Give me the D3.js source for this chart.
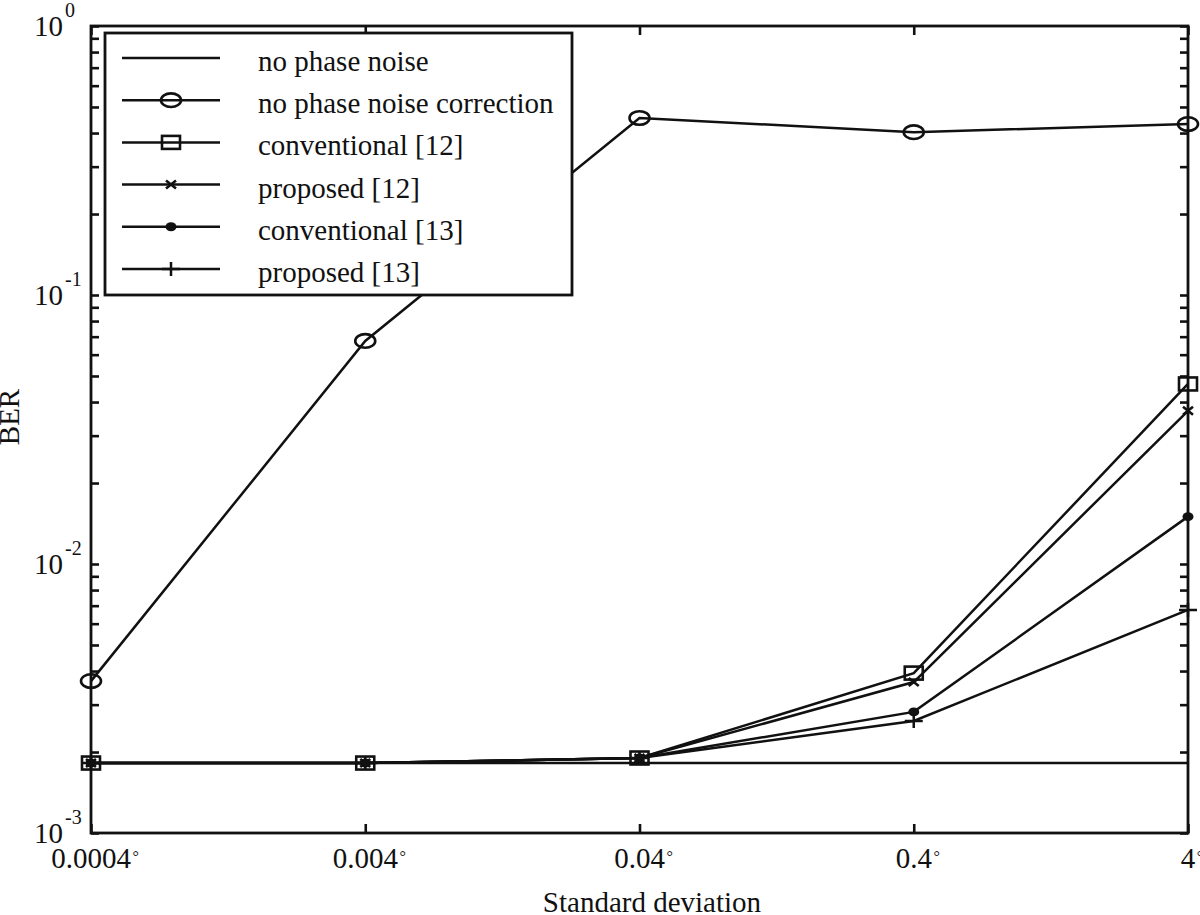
<!DOCTYPE html>
<html>
<head>
<meta charset="utf-8">
<script src="https://cdn.jsdelivr.net/npm/d3@7"></script>
<style>
  body { margin: 0; background: #fff; }
  svg { display: block; font-family: "Liberation Serif", "Times New Roman", serif; }
</style>
</head>
<body>
<svg id="chart"></svg>
<script>
// x values (standard deviation, degrees) and their tick labels
let stdDev = [0.0004, 0.004, 0.04, 0.4, 4];
let xTickLabels = ["0.0004", "0.004", "0.04", "0.4", "4"];
let yTickExps = ["-3", "-2", "-1", "0"];

// BER series
let noPhaseNoise = [1.82e-3, 1.82e-3, 1.82e-3, 1.82e-3, 1.82e-3];
let noCorrection = [3.67e-3, 0.0675, 0.455, 0.403, 0.432];
let conventional12 = [1.82e-3, 1.82e-3, 1.90e-3, 3.93e-3, 0.0467];
let proposed12 = [1.82e-3, 1.82e-3, 1.90e-3, 3.64e-3, 0.0371];
let conventional13 = [1.82e-3, 1.82e-3, 1.90e-3, 2.82e-3, 0.0150];
let proposed13 = [1.82e-3, 1.82e-3, 1.90e-3, 2.61e-3, 0.00675];

let seriesNames = ["no phase noise", "no phase noise correction", "conventional [12]",
  "proposed [12]", "conventional [13]", "proposed [13]"];
let seriesMarkers = ["none", "ellipse", "square", "cross", "dot", "plus"];
let seriesValues = [noPhaseNoise, noCorrection, conventional12, proposed12, conventional13, proposed13];

let width = 1200;
let height = 915;
let plotLeft = 91, plotRight = 1188, plotTop = 26, plotBottom = 833;
let ink = "#111";

let svg = d3.select("#chart").attr("width", width).attr("height", height);

let xScale = d3.scaleLog().domain([0.0004, 4]).range([plotLeft, plotRight]);
let yScale = d3.scaleLog().domain([1e-3, 1]).range([plotBottom, plotTop]);

// every minor and major tick on the y axis
let yTicks = [];
for (let e = -3; e <= 0; e++) {
  for (let m = 1; m <= 9; m++) {
    let v = m * Math.pow(10, e);
    if (v <= 1) yTicks.push(v);
  }
}

let drawAxes = () => {
  let yLeft = d3.axisRight(yScale).tickValues(yTicks).tickSize(8).tickFormat("").tickSizeOuter(0);
  let yRight = d3.axisLeft(yScale).tickValues(yTicks).tickSize(8).tickFormat("").tickSizeOuter(0);
  let xBottom = d3.axisTop(xScale).tickValues(stdDev).tickSize(9).tickFormat("").tickSizeOuter(0);
  let xTop = d3.axisBottom(xScale).tickValues(stdDev).tickSize(9).tickFormat("").tickSizeOuter(0);

  svg.append("g").attr("transform", "translate(" + plotLeft + ",0)").call(yLeft);
  svg.append("g").attr("transform", "translate(" + plotRight + ",0)").call(yRight);
  svg.append("g").attr("transform", "translate(0," + plotBottom + ")").call(xBottom);
  svg.append("g").attr("transform", "translate(0," + plotTop + ")").call(xTop);

  svg.selectAll(".tick line").attr("stroke", ink).attr("stroke-width", 2.6);
  svg.selectAll(".domain").remove();

  // frame
  svg.append("rect")
    .attr("x", plotLeft).attr("y", plotTop)
    .attr("width", plotRight - plotLeft).attr("height", plotBottom - plotTop)
    .attr("fill", "none").attr("stroke", ink).attr("stroke-width", 2.8);

  // y labels: 10 with exponent
  let yLab = svg.append("g").attr("fill", ink);
  yTickExps.forEach((ex) => {
    let y = yScale(Math.pow(10, +ex));
    yLab.append("text").attr("x", 63).attr("y", y + 10)
      .attr("text-anchor", "end").attr("font-size", 29).text("10");
    yLab.append("text").attr("x", 65).attr("y", y - 9)
      .attr("font-size", 20).text(ex);
  });

  // x labels with a degree sign after the number
  let xLab = svg.append("g").attr("fill", ink);
  stdDev.forEach((v, i) => {
    let t = xLab.append("text").attr("x", xScale(v)).attr("y", 868)
      .attr("text-anchor", "middle").attr("font-size", 29).text(xTickLabels[i]);
    let box = t.node().getBBox();
    xLab.append("text").attr("x", box.x + box.width + 1).attr("y", 862)
      .attr("font-size", 16).text("°");
  });

  svg.append("text").attr("x", 652).attr("y", 912).attr("text-anchor", "middle")
    .attr("font-size", 29).attr("fill", ink).text("Standard deviation");

  svg.append("text").attr("transform", "translate(19,417) rotate(-90)")
    .attr("text-anchor", "middle").attr("font-size", 29).attr("fill", ink).text("BER");
};

let drawMarker = (g, type, cx, cy) => {
  if (type === "ellipse") {
    g.append("ellipse").attr("cx", cx).attr("cy", cy).attr("rx", 10).attr("ry", 6.8)
      .attr("fill", "none").attr("stroke", ink).attr("stroke-width", 2.6);
  } else if (type === "square") {
    g.append("rect").attr("x", cx - 9).attr("y", cy - 6.5).attr("width", 18).attr("height", 13)
      .attr("fill", "none").attr("stroke", ink).attr("stroke-width", 2.6);
  } else if (type === "cross") {
    g.append("path").attr("d", `M${cx - 5},${cy - 4}L${cx + 5},${cy + 4}M${cx - 5},${cy + 4}L${cx + 5},${cy - 4}`)
      .attr("stroke", ink).attr("stroke-width", 2.6);
  } else if (type === "dot") {
    g.append("ellipse").attr("cx", cx).attr("cy", cy).attr("rx", 5.5).attr("ry", 4.5).attr("fill", ink);
  } else if (type === "plus") {
    g.append("path").attr("d", `M${cx - 9},${cy}L${cx + 9},${cy}M${cx},${cy - 7}L${cx},${cy + 7}`)
      .attr("stroke", ink).attr("stroke-width", 2.5);
  }
};

let drawSeries = () => {
  let line = d3.line().x((d, i) => xScale(stdDev[i])).y((d) => yScale(d));
  seriesValues.forEach((vals, s) => {
    let g = svg.append("g");
    g.append("path").datum(vals).attr("d", line)
      .attr("fill", "none").attr("stroke", ink).attr("stroke-width", 2.5);
    vals.forEach((v, i) => drawMarker(g, seriesMarkers[s], xScale(stdDev[i]), yScale(v)));
  });
};

let drawLegend = () => {
  let g = svg.append("g");
  g.append("rect").attr("x", 105).attr("y", 33).attr("width", 467).attr("height", 262)
    .attr("fill", "#fff").attr("stroke", ink).attr("stroke-width", 2.8);
  seriesNames.forEach((name, i) => {
    let y = 58 + i * 42.2;
    g.append("line").attr("x1", 122).attr("x2", 220).attr("y1", y).attr("y2", y)
      .attr("stroke", ink).attr("stroke-width", 2.5);
    drawMarker(g, seriesMarkers[i], 171, y);
    g.append("text").attr("x", 258).attr("y", y + 13).attr("font-size", 29)
      .attr("fill", ink).text(name);
  });
};

drawAxes();
drawSeries();
drawLegend();
</script>
</body>
</html>
